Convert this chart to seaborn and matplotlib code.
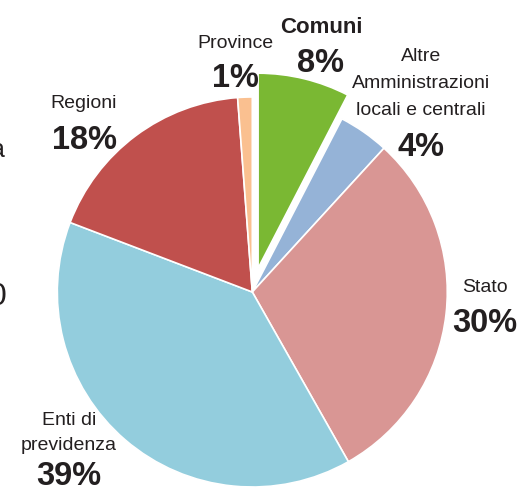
"""
Pie: composition by sector (Comuni pulled out of the pie).
"""

import matplotlib
matplotlib.use("Agg")
import matplotlib.pyplot as plt
import seaborn as sns

# ── Data ─────────────────────────────────────────────────────────────────────
SECTORS = ["Comuni", "Altre Amministrazioni locali e centrali", "Stato",
           "Enti di previdenza", "Regioni", "Province"]
NAME_LINES = [["Comuni"], ["Altre", "Amministrazioni", "locali e centrali"],
              ["Stato"], ["Enti di", "previdenza"], ["Regioni"], ["Province"]]
SHARE = [7.6, 4.2, 30.0, 39.0, 18.0, 1.2]
COLORS = ["#7AB833", "#95B3D7", "#D99694", "#93CDDD", "#C0504D", "#FAC090"]
HIGHLIGHT = "Comuni"

# ── Layout (pixels, y measured from the top) ─────────────────────────────────
W, H = 518, 493
CENTER = (252.3, 292)
RADIUS = 195
PULL = 24.5
LABEL_X   = [321, 421, 485, 69, 84, 235.5]
NAME_BASE = [33, 115, 292, 450, 108, 47.5]   # baseline of last name line
PCT_BASE  = [72.5, 156, 332, 485, 149, 87]
LINE_GAP  = [0, 27, 0, 25, 0, 0]
TXT = "#231F20"

sns.set_theme(style="white")
plt.rcParams["font.family"] = ["Liberation Sans", "DejaVu Sans"]

fig = plt.figure(figsize=(W / 100, H / 100), dpi=100)
ax = fig.add_axes([0, 0, 1, 1])

explode = [PULL if s == HIGHLIGHT else 0 for s in SECTORS]
ax.pie(SHARE, colors=sns.color_palette(COLORS), explode=explode,
       center=(CENTER[0], H - CENTER[1]), radius=RADIUS,
       startangle=90, counterclock=False, frame=True,
       wedgeprops=dict(edgecolor="white", linewidth=1.2))
ax.set_xlim(0, W)
ax.set_ylim(0, H)
ax.set_aspect("equal")
ax.axis("off")

for i, s in enumerate(SECTORS):
    lines = NAME_LINES[i]
    bold = s == HIGHLIGHT
    for k, line in enumerate(lines):
        yb = NAME_BASE[i] - (len(lines) - 1 - k) * LINE_GAP[i]
        ax.text(LABEL_X[i], H - yb, line, ha="center", va="baseline",
                fontsize=16 if bold else 14,
                fontweight="bold" if bold else "normal", color=TXT)
    ax.text(LABEL_X[i], H - PCT_BASE[i], f"{SHARE[i]:.0f}%", ha="center",
            va="baseline", fontsize=23.5, fontweight="bold", color=TXT)

# fragments of neighbouring labels cut by the left edge
ax.text(5, H - 157, "a", ha="right", va="baseline", fontsize=18, color=TXT)
ax.text(7, H - 305, "0", ha="right", va="baseline", fontsize=23, color=TXT)

plt.savefig("out.png", dpi=100)
plt.close()
